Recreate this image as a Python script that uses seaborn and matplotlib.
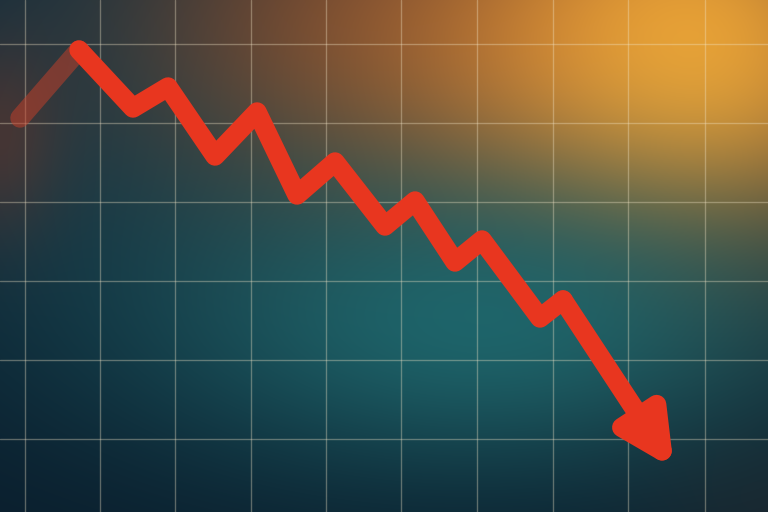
import numpy as np
import matplotlib
matplotlib.use("Agg")
import matplotlib.pyplot as plt
import seaborn as sns

# zigzag path, in picture units (x to the right, y down)
path_x = [20, 79, 133, 168, 215, 257, 297, 335, 385, 415, 455, 482, 540, 563]
path_y = [118, 50, 108, 87, 156, 112, 195, 162, 226, 201, 262, 240, 318, 300]
tip_x = 674
tip_y = 469

grid_x = [25, 100, 175, 251, 326, 401, 477, 553, 628, 705]
grid_y = [44, 123, 202, 281, 360, 439]

W, H = 768, 512


def blob(xx, yy, cx, cy, sx, sy):
    return np.exp(-(((xx - cx) / sx) ** 2 + ((yy - cy) / sy) ** 2) / 2)


def mix(img, col, w):
    col = np.array(matplotlib.colors.to_rgb(col))
    w = np.clip(w, 0, 1)[..., None]
    return img * (1 - w) + col * w


yy, xx = np.mgrid[0:H, 0:W].astype(float)
bg = np.zeros((H, W, 3)) + np.array(matplotlib.colors.to_rgb("#0a1c2b"))
bg = mix(bg, "#143a4a", 0.8 * blob(xx, yy, 150, 90, 280, 200))
bg = mix(bg, "#6e3a2a", 0.65 * blob(xx, yy, 360, 20, 170, 100))
bg = mix(bg, "#6a3428", 0.55 * blob(xx, yy, 0, 140, 45, 70))
bg = mix(bg, "#c87530", 0.95 * blob(xx, yy, 620, 60, 230, 140))
bg = mix(bg, "#f0a836", 0.9 * blob(xx, yy, 690, 50, 120, 110))
bg = mix(bg, "#1d6a70", 0.9 * blob(xx, yy, 480, 320, 240, 110))
bg = mix(bg, "#3a3530", 0.25 * blob(xx, yy, 768, 512, 90, 60))

sns.set_style("white")
fig = plt.figure(figsize=(7.68, 5.12), dpi=100)
ax = fig.add_axes([0, 0, 1, 1])
ax.imshow(bg, extent=(0, W, H, 0), aspect="auto", zorder=0, interpolation="bilinear")

ax.set_xticks(grid_x)
ax.set_yticks(grid_y)
ax.grid(True, color="#f3e6c8", alpha=0.35, linewidth=1.0, zorder=1)
ax.tick_params(length=0, labelbottom=False, labelleft=False)
for s in ax.spines.values():
    s.set_visible(False)

red = "#e8361f"
# faded lead-in
sns.lineplot(x=path_x[:2], y=path_y[:2], ax=ax, color="#c8402a", alpha=0.5,
             linewidth=14, sort=False, solid_capstyle="round", zorder=2)
sns.lineplot(x=path_x[1:], y=path_y[1:], ax=ax, color=red, linewidth=14,
             sort=False, solid_capstyle="round", solid_joinstyle="round", zorder=3)
ax.annotate("", xy=(tip_x, tip_y), xytext=(path_x[-1], path_y[-1]),
            arrowprops=dict(arrowstyle="-|>,head_length=3.0,head_width=1.5",
                            color=red, linewidth=14, shrinkA=0, shrinkB=0,
                            joinstyle="round", capstyle="round"),
            zorder=3)

ax.set_xlim(0, W)
ax.set_ylim(H, 0)
fig.savefig("out.png", dpi=100)
